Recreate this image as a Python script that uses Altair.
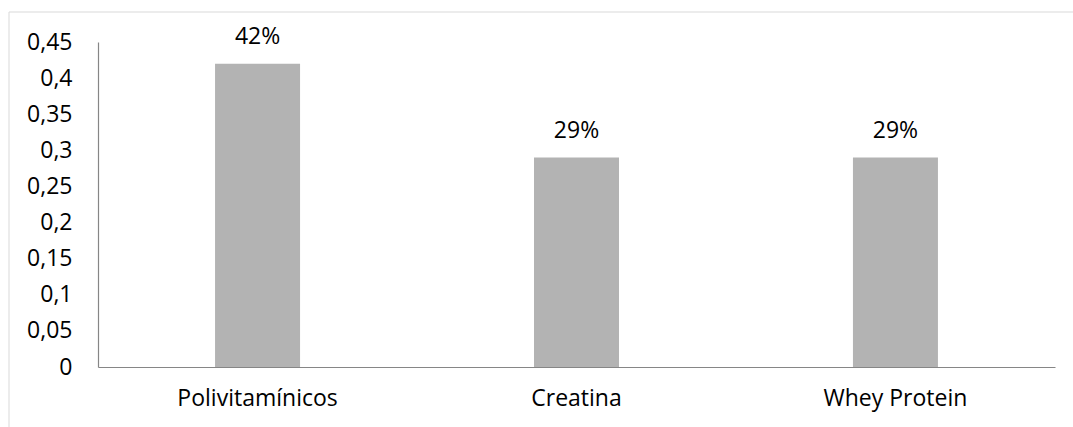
import altair as alt
import pandas as pd

categories = ["Polivitamínicos", "Creatina", "Whey Protein"]
values = [0.42, 0.29, 0.29]
y_ticks = [0, 0.05, 0.1, 0.15, 0.2, 0.25, 0.3, 0.35, 0.4, 0.45]

df = pd.DataFrame({"cat": categories, "val": values})

FONT = "Open Sans"
FS = 23

x = alt.X("cat:N", sort=categories, title=None,
          scale=alt.Scale(paddingInner=0.7335, paddingOuter=0.367),
          axis=alt.Axis(labelAngle=0, labelFont=FONT, labelFontSize=FS, labelColor="#000000",
                        labelPadding=20, ticks=False, domainColor="#868686", domainWidth=1.2))
y = alt.Y("val:Q", title=None,
          scale=alt.Scale(domain=[0, 0.45], nice=False, zero=True),
          axis=alt.Axis(values=y_ticks, labelExpr="replace('' + datum.value, '.', ',')",
                        labelFont=FONT, labelFontSize=FS, labelColor="#000000",
                        labelOverlap=False, labelPadding=26, ticks=False, grid=False,
                        domainColor="#868686", domainWidth=1.2))

bars = alt.Chart(df).mark_bar(color="#B3B3B3").encode(x=x, y=y)
text = alt.Chart(df).mark_text(dy=-20, baseline="alphabetic", font=FONT, fontSize=FS,
                               color="#000000").encode(
    x=x, y=y, text=alt.Text("val:Q", format=".0%"))

border = alt.Chart(pd.DataFrame({"a": [0]})).mark_rect(
    fill=None, stroke="#D9D9D9", strokeWidth=1).encode(
    x=alt.value(-89), x2=alt.value(990), y=alt.value(-30), y2=alt.value(400))

chart = alt.layer(border, bars, text).properties(
    width=957, height=325,
    autosize=alt.AutoSizeParams(type="none"),
    padding={"left": 98, "top": 42, "right": 18, "bottom": 60},
    background="#FFFFFF",
).configure_view(stroke=None)

chart.save("out.html", embed_options={"renderer": "svg", "actions": False})
